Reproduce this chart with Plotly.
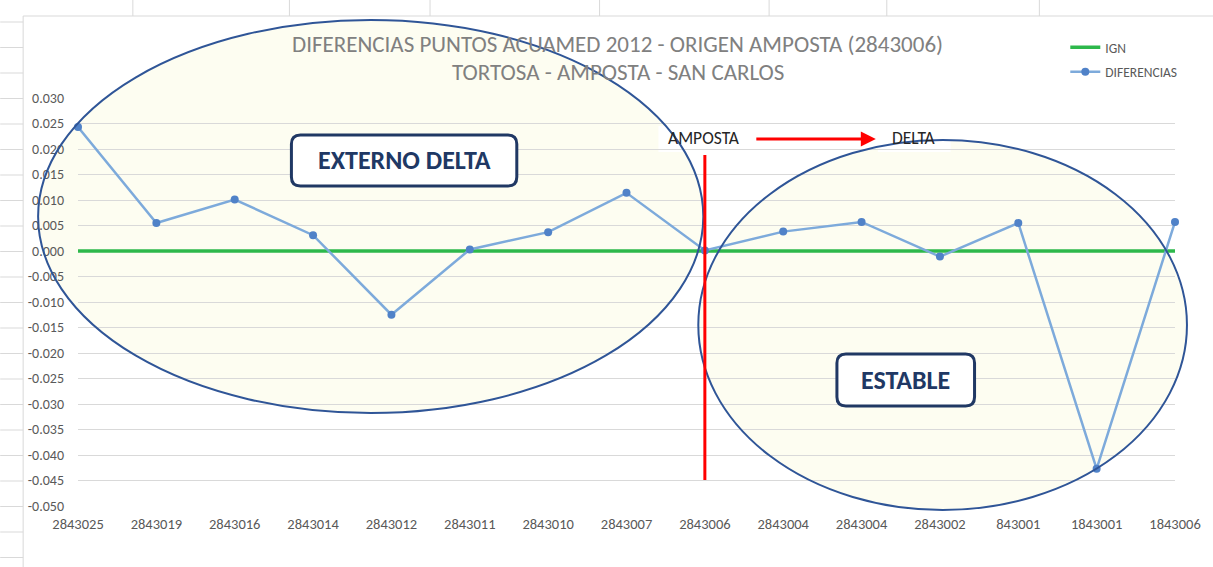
import plotly.graph_objects as go

# ---- data ----
puntos = ["2843025", "2843019", "2843016", "2843014", "2843012", "2843011", "2843010",
          "2843007", "2843006", "2843004", "2843004", "2843002", "843001", "1843001", "1843006"]
diferencias = [0.0243, 0.0055, 0.0101, 0.0031, -0.0125, 0.0003, 0.0037, 0.0114,
               0.0001, 0.0038, 0.0057, -0.0011, 0.0055, -0.0427, 0.0057]
ign = [0.0] * len(puntos)
y_ticks = [0.030, 0.025, 0.020, 0.015, 0.010, 0.005, 0.000, -0.005, -0.010, -0.015,
           -0.020, -0.025, -0.030, -0.035, -0.040, -0.045, -0.050]

W, H = 1213, 567
L, R, T, B = 78, 35, 98, 61
PW, PH = W - L - R, H - T - B


def px(x):
    return (x - L) / PW


def py(y):
    return (H - B - y) / PH


FONT = "Carlito, Lato, sans-serif"
xs = list(range(len(puntos)))

fig = go.Figure()
fig.add_trace(go.Scatter(x=xs, y=ign, mode="lines", name="IGN",
                         line=dict(color="#2DB84B", width=3.5), legendgroup="a",
                         cliponaxis=False))
fig.add_trace(go.Scatter(x=xs, y=diferencias, mode="lines+markers", name="DIFERENCIAS",
                         line=dict(color="#7DAADB", width=2.5),
                         marker=dict(color="#5082C8", size=8), legendgroup="b",
                         cliponaxis=False))

shapes = []
# spreadsheet background lines
shapes.append(dict(type="rect", xref="paper", yref="paper", x0=px(23), x1=px(1230), y0=py(16), y1=py(600),
                   line=dict(color="#D9D9D9", width=1), fillcolor="rgba(0,0,0,0)", layer="below"))
for vx in [133, 290, 431, 601, 771, 889, 1042]:
    shapes.append(dict(type="line", xref="paper", yref="paper", x0=px(vx), x1=px(vx), y0=py(0), y1=py(16),
                       line=dict(color="#D9D9D9", width=1), layer="below"))
hy = 22
while hy < H:
    shapes.append(dict(type="line", xref="paper", yref="paper", x0=px(0), x1=px(23), y0=py(hy), y1=py(hy),
                       line=dict(color="#D9D9D9", width=1), layer="below"))
    hy += 25.5

# ellipse fills (below gridlines)
ell = [(38, 20, 705, 413), (700, 140, 1190, 510)]
for (x0, y0, x1, y1) in ell:
    shapes.append(dict(type="circle", xref="paper", yref="paper", x0=px(x0), x1=px(x1), y0=py(y1), y1=py(y0),
                       fillcolor="#FDFDF1", line=dict(width=0), layer="below"))
# white label boxes
for (x0, y0, x1, y1) in [(660, 126, 752, 152), (880, 126, 953, 152), (1062, 30, 1200, 86)]:
    shapes.append(dict(type="rect", xref="paper", yref="paper", x0=px(x0), x1=px(x1), y0=py(y1), y1=py(y0),
                       fillcolor="white", line=dict(width=0), layer="below"))
# ellipse outlines (above)
for (x0, y0, x1, y1) in ell:
    shapes.append(dict(type="circle", xref="paper", yref="paper", x0=px(x0), x1=px(x1), y0=py(y1), y1=py(y0),
                       fillcolor="rgba(0,0,0,0)", line=dict(color="#2F5597", width=2), layer="above"))
# red vertical separator at 2843006
shapes.append(dict(type="line", xref="x", yref="y", x0=8, x1=8, y0=-0.0449, y1=0.0188,
                   line=dict(color="#FF0000", width=3), layer="above"))


def rounded(x0, y0, x1, y1, r):
    a0, a1 = px(x0), px(x1)
    b0, b1 = py(y0), py(y1)  # b0 top, b1 bottom
    rx, ry = r / PW, r / PH
    return (f"M{a0+rx},{b0} L{a1-rx},{b0} Q{a1},{b0} {a1},{b0-ry} L{a1},{b1+ry} "
            f"Q{a1},{b1} {a1-rx},{b1} L{a0+rx},{b1} Q{a0},{b1} {a0},{b1+ry} L{a0},{b0-ry} "
            f"Q{a0},{b0} {a0+rx},{b0} Z")


for (x0, y0, x1, y1) in [(292, 135, 518, 186), (839, 354, 977, 406)]:
    shapes.append(dict(type="path", xref="paper", yref="paper", path=rounded(x0, y0, x1, y1, 9),
                       fillcolor="white", line=dict(color="#203864", width=3), layer="above"))

annotations = [
    dict(xref="paper", yref="paper", x=px(619), y=py(44), text="DIFERENCIAS PUNTOS ACUAMED 2012 - ORIGEN AMPOSTA (2843006)",
         showarrow=False, font=dict(family=FONT, size=23, color="#808080"), xanchor="center", yanchor="middle"),
    dict(xref="paper", yref="paper", x=px(619), y=py(72), text="TORTOSA - AMPOSTA - SAN CARLOS",
         showarrow=False, font=dict(family=FONT, size=23, color="#808080"), xanchor="center", yanchor="middle"),
    dict(xref="paper", yref="paper", x=px(706), y=py(138), text="AMPOSTA", showarrow=False,
         font=dict(family=FONT, size=17.5, color="#262626"), xanchor="center", yanchor="middle"),
    dict(xref="paper", yref="paper", x=px(916), y=py(138), text="DELTA", showarrow=False,
         font=dict(family=FONT, size=17.5, color="#262626"), xanchor="center", yanchor="middle"),
    dict(xref="paper", yref="paper", x=px(878), y=py(139), ax=-121, ay=0, text="", showarrow=True,
         arrowhead=2, arrowsize=1, arrowwidth=3, arrowcolor="#FF0000"),
    dict(xref="paper", yref="paper", x=px(405), y=py(160), text="<b>EXTERNO DELTA</b>", showarrow=False,
         font=dict(family=FONT, size=26, color="#203864"), xanchor="center", yanchor="middle"),
    dict(xref="paper", yref="paper", x=px(908), y=py(380), text="<b>ESTABLE</b>", showarrow=False,
         font=dict(family=FONT, size=26, color="#203864"), xanchor="center", yanchor="middle"),
]

fig.update_layout(
    width=W, height=H,
    margin=dict(l=L, r=R, t=T, b=B),
    paper_bgcolor="white", plot_bgcolor="rgba(0,0,0,0)",
    font=dict(family=FONT, color="#595959"),
    shapes=shapes, annotations=annotations,
    showlegend=True,
    legend=dict(x=px(1068), y=py(32), xanchor="left", yanchor="top",
                bgcolor="rgba(0,0,0,0)", font=dict(size=13.5, color="#595959"),
                tracegroupgap=4, traceorder="grouped", itemwidth=30),
)
fig.update_xaxes(range=[0, len(puntos) - 1], tickmode="array", tickvals=xs, ticktext=puntos,
                 showgrid=False, zeroline=False, showline=False, ticks="",
                 tickfont=dict(size=14.5, color="#595959"), ticklabelstandoff=7)
fig.update_yaxes(range=[-0.050, 0.030], tickmode="array", tickvals=y_ticks,
                 ticktext=[f"{v:.3f}" for v in y_ticks],
                 showgrid=True, gridcolor="#D9D9D9", gridwidth=1, zeroline=False, showline=False,
                 ticks="", tickfont=dict(size=14, color="#595959"), ticklabelstandoff=13)

fig.write_html("out.html")
